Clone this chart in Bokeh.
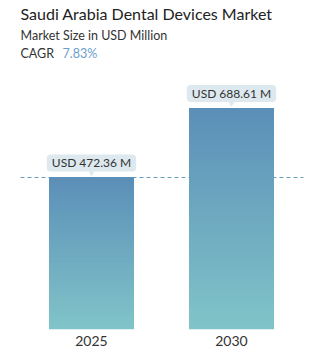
from bokeh.plotting import figure
from bokeh.models import Label, Range1d, FixedTicker
from bokeh.embed import file_html
from bokeh.resources import INLINE

# ---- data ----
years = ["2025", "2030"]
values = [472.36, 688.61]
labels = ["USD 472.36 M", "USD 688.61 M"]
title = "Saudi Arabia Dental Devices Market"
subtitle = "Market Size in USD Million"
cagr = "7.83%"

W, H = 323, 363
BOTTOM_PX = 329          # frame bottom (bar baseline) in canvas px
X0_PX, DX_PX = 91, 140   # centre of first bar, spacing
YSCALE = 0.3218          # px per USD million

def xd(px):
    return (px - X0_PX) / DX_PX

def yd(py):
    return (BOTTOM_PX - py) / YSCALE

p = figure(width=W, height=H, output_backend="svg", toolbar_location=None,
           x_range=Range1d(xd(0), xd(W)), y_range=Range1d(0, yd(0)),
           min_border_left=0, min_border_right=0, min_border_top=0,
           min_border_bottom=H - BOTTOM_PX)
p.outline_line_color = None
p.background_fill_color = "white"
p.border_fill_color = "white"
p.grid.visible = False
p.yaxis.visible = False

ax = p.xaxis[0]
ax.ticker = FixedTicker(ticks=list(range(len(years))))
ax.major_label_overrides = {i: y for i, y in enumerate(years)}
ax.axis_line_color = None
ax.major_tick_line_color = None
ax.minor_tick_line_color = None
ax.major_tick_in = 0
ax.major_tick_out = 0
ax.major_label_text_font = "Lato"
ax.major_label_text_font_size = "14px"
ax.major_label_text_color = "#333333"
ax.major_label_standoff = 6

# dashed reference line at first value
p.segment(x0=[xd(20)], x1=[xd(303)], y0=[values[0]], y1=[values[0]],
          line_color="#6a9cc0", line_width=1, line_dash="4 3")

# gradient bars
def lerp(c1, c2, t):
    a = [int(c1[i:i+2], 16) for i in (1, 3, 5)]
    b = [int(c2[i:i+2], 16) for i in (1, 3, 5)]
    return "#%02x%02x%02x" % tuple(round(a[k] + (b[k] - a[k]) * t) for k in range(3))

BOT_C, TOP_C = "#80c4c8", "#5b8eb8"
N = 48
bw = 85 / DX_PX
for i, v in enumerate(values):
    lefts, rights, bots, tops, cols = [], [], [], [], []
    for k in range(N):
        t = k / N
        lefts.append(i - bw / 2); rights.append(i + bw / 2)
        bots.append(v * t); tops.append(v)
        cols.append(lerp(BOT_C, TOP_C, t))
    p.quad(left=lefts, right=rights, bottom=bots, top=tops,
           fill_color=cols, line_color=None)

# callouts
for i, (v, lab) in enumerate(zip(values, labels)):
    p.scatter(x=[i], y=[v + 4.5 / YSCALE], marker="inverted_triangle", size=6,
              fill_color="#dde9ee", line_color=None)
    p.add_layout(Label(x=i, y=v, y_offset=6, text=lab, text_align="center",
                       text_baseline="bottom", text_font="Lato",
                       text_font_size="12px", text_color="#333333",
                       background_fill_color="#dde9ee",
                       border_radius=4,
                       padding=dict(left=5, right=5, top=1, bottom=1)))

# titles
p.add_layout(Label(x=xd(20), y=yd(13), text=title, text_font="Lato",
                   text_font_size="16px", text_font_style="normal",
                   text_color="#222222", text_baseline="alphabetic"))
p.add_layout(Label(x=xd(20), y=yd(35), text=subtitle, text_font="Lato",
                   text_font_size="12.5px", text_color="#333333",
                   text_baseline="alphabetic"))
p.add_layout(Label(x=xd(20), y=yd(53), text="CAGR", text_font="Lato",
                   text_font_size="12.5px", text_color="#333333",
                   text_baseline="alphabetic"))
p.add_layout(Label(x=xd(62), y=yd(53), text=cagr, text_font="Lato",
                   text_font_size="12.5px", text_color="#6a9ccc",
                   text_baseline="alphabetic"))

open("out.html", "w").write(file_html(p, INLINE))
